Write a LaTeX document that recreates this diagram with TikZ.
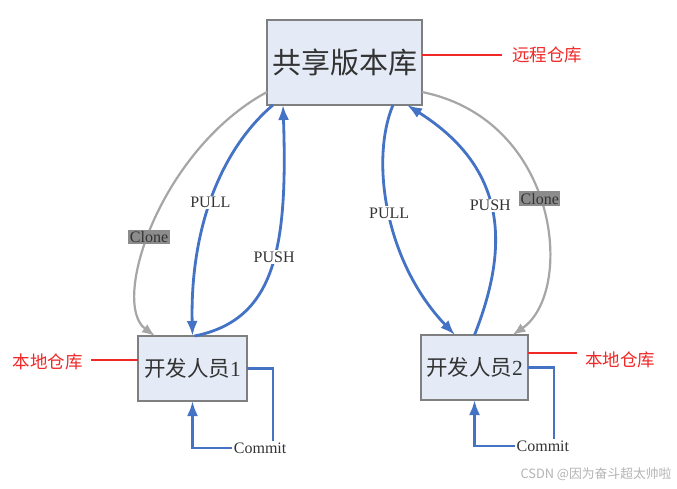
\documentclass[tikz,border=0pt]{standalone}
\usepackage{fontspec}
\setmainfont{Liberation Serif}
\newfontfamily\cjk{Noto Sans CJK SC}
\usetikzlibrary{arrows.meta}
\definecolor{boxfill}{HTML}{E4EBF6}
\definecolor{boxline}{HTML}{7F7F7F}
\definecolor{flowblue}{HTML}{4472C4}
\definecolor{clonegray}{HTML}{A6A6A6}
\definecolor{labelgray}{HTML}{8C8C8C}
\definecolor{txt}{HTML}{333333}
\definecolor{annred}{HTML}{F02828}
\definecolor{wmgray}{HTML}{B4B4B4}
\tikzset{
 repobox/.style={draw=boxline, fill=boxfill, line width=2pt, text=txt, inner sep=0pt, outer sep=0pt},
 redtext/.style={text=annred, font=\cjk\fontsize{17.5}{20}\selectfont, inner sep=0pt},
 redline/.style={draw=annred, line width=1.3pt},
 bluearrow/.style={draw=flowblue, line width=2.8pt, -{Latex[length=15pt,width=11pt]}},
 grayarrow/.style={draw=clonegray, line width=2.2pt, -{Latex[length=13pt,width=10pt]}},
 flowlabel/.style={fill=white, text=txt, font=\fontsize{16}{18}\selectfont, inner sep=1.5pt},
 clonelabel/.style={fill=labelgray, text=txt, font=\fontsize{16}{18}\selectfont, inner sep=1.5pt},
}
\begin{document}
\begin{tikzpicture}[x=1pt,y=-1pt]
\fill[white] (0,0) rectangle (677,488);
\useasboundingbox (0,0) rectangle (677,488);

\node[repobox, minimum width=155pt, minimum height=85pt, font=\cjk\fontsize{29}{32}\selectfont] (repo) at (344.5,62.5) {共享版本库};
\node[repobox, minimum width=109pt, minimum height=65pt, font=\fontsize{21.5}{24}\selectfont] (b1) at (192.5,368.5) {{\cjk 开发人员}1};
\node[repobox, minimum width=107pt, minimum height=65pt, font=\fontsize{21.5}{24}\selectfont] (b2) at (474.5,367.5) {{\cjk 开发人员}2};

% annotations
\node[redtext, anchor=west] (rl0) at (512,55) {远程仓库};
\draw[redline] ([xshift=-10pt]rl0.west) coordinate (r0) -- (r0 -| repo.east);
\node[redtext, anchor=east] (rl1) at (83,362) {本地仓库};
\draw[redline] ([xshift=8pt,yshift=2pt]rl1.east) coordinate (r1) -- (r1 -| b1.west);
\node[redtext, anchor=west] (rl2) at (585,360) {本地仓库};
\draw[redline] ([xshift=-8pt,yshift=7pt]rl2.west) coordinate (r2) -- (r2 -| b2.east);

% left developer
\draw[grayarrow] ([yshift=13pt]repo.south west) .. controls +(-107,58) and +(-45,-33) .. node[clonelabel, pos=0.545] (cl1) {Clone} ([xshift=-37.5pt]b1.north);
\draw[bluearrow] ([xshift=6pt]repo.south west) .. controls +(-53,45) and +(-2.5,-106) .. node[flowlabel, pos=0.52] (pl1) {PULL} (b1.north);
\draw[bluearrow] ([xshift=2pt]b1.north) .. controls +(80,-16) and +(5,145) .. node[flowlabel, pos=0.55] (ps1) {PUSH} ([xshift=16pt]repo.south west);

% right developer
\draw[bluearrow] ([xshift=48.5pt]repo.south) .. controls +(-23,55) and +(-70,-73) .. node[flowlabel, pos=0.5] (pl2) {PULL} ([xshift=-19.5pt]b2.north);
\draw[bluearrow] (b2.north) .. controls +(33.5,-85) and +(103,65) .. node[flowlabel, pos=0.53] (ps2) {PUSH} ([xshift=62.5pt]repo.south);
\draw[grayarrow] ([yshift=13pt]repo.south east) .. controls +(138,28) and +(62.5,-43) .. node[clonelabel, pos=0.47] (cl2) {Clone} ([xshift=38pt]b2.north);

% commit loops
\coordinate (c1) at (273,448);
\draw[bluearrow] (b1.east) -| (c1) -| node[flowlabel, pos=0.08] (cm1) {Commit} (b1.south);
\coordinate (c2) at (554,446);
\draw[bluearrow] (b2.east) -| (c2) -| node[flowlabel, pos=0.07] (cm2) {Commit} (b2.south);

\node[text=wmgray, font=\cjk\fontsize{12.8}{15}\selectfont] (wm) at (596,474) {CSDN @因为奋斗超太帅啦};
\end{tikzpicture}
\end{document}
